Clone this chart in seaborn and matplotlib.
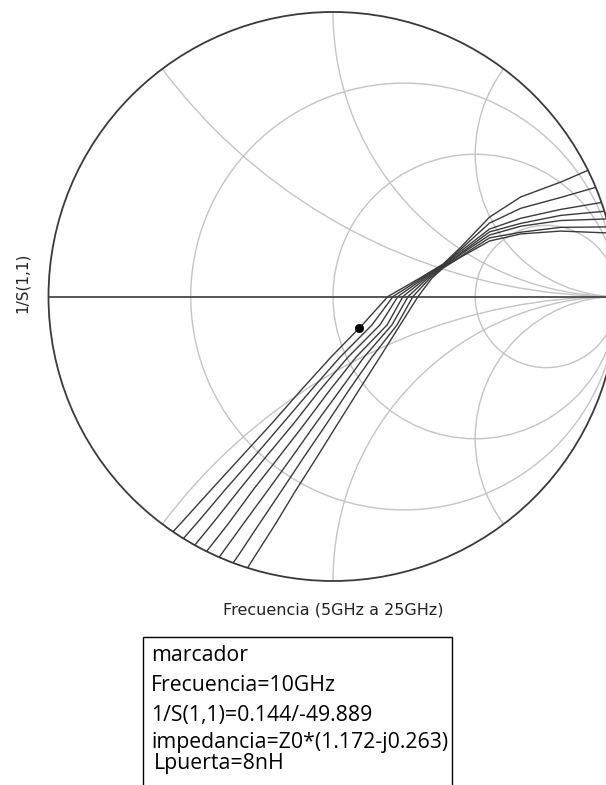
import numpy as np
import pandas as pd
import matplotlib
matplotlib.use("Agg")
import matplotlib.pyplot as plt
import seaborn as sns
from matplotlib.patches import Circle, Rectangle

# Smith chart grid values
r_circles = [1 / 3, 1, 3]
x_arcs = [0.5, 1, 2]

# 1/S(1,1) traces (one per Lpuerta value), reflection coefficient re / im
# im values: top part per curve, lower part read at common levels
levels_im = [0.065, 0.0, -0.100, -0.213, -0.329, -0.445, -0.564, -0.680, -0.796, -0.912, -0.996]

c1_re = [0.96, 0.80, 0.66, 0.55, 0.45, 0.387, 0.306, 0.193, 0.103, -0.007, -0.112, -0.214, -0.323, -0.429, -0.534, -0.640, -0.724]
c1_im_top = [0.471, 0.402, 0.350, 0.279, 0.174, 0.114]
c2_re = [0.98, 0.80, 0.66, 0.55, 0.45, 0.387, 0.313, 0.211, 0.137, 0.025, -0.077, -0.176, -0.278, -0.380, -0.478, -0.580, -0.657]
c2_im_top = [0.400, 0.348, 0.310, 0.258, 0.167, 0.112]
c3_re = [1.00, 0.80, 0.66, 0.55, 0.45, 0.387, 0.320, 0.228, 0.165, 0.053, -0.046, -0.137, -0.236, -0.330, -0.422, -0.517, -0.591]
c3_im_top = [0.340, 0.306, 0.275, 0.237, 0.160, 0.110]
c4_re = [1.00, 0.80, 0.66, 0.55, 0.45, 0.387, 0.327, 0.246, 0.190, 0.081, -0.011, -0.098, -0.190, -0.281, -0.366, -0.457, -0.524]
c4_im_top = [0.304, 0.285, 0.257, 0.227, 0.153, 0.107]
c5_re = [1.00, 0.80, 0.66, 0.55, 0.45, 0.387, 0.334, 0.264, 0.207, 0.109, 0.025, -0.060, -0.144, -0.228, -0.313, -0.397, -0.460]
c5_im_top = [0.274, 0.267, 0.247, 0.216, 0.149, 0.105]
c6_re = [1.00, 0.80, 0.66, 0.55, 0.45, 0.387, 0.341, 0.281, 0.225, 0.137, 0.056, -0.021, -0.102, -0.179, -0.257, -0.334, -0.394]
c6_im_top = [0.245, 0.243, 0.226, 0.206, 0.142, 0.102]
c7_re = [1.00, 0.80, 0.66, 0.55, 0.45, 0.387, 0.348, 0.299, 0.236, 0.165, 0.091, 0.018, -0.056, -0.130, -0.200, -0.274, -0.327]
c7_im_top = [0.222, 0.230, 0.220, 0.195, 0.139, 0.100]

# marker at 10 GHz
marker_mag = [0.144]
marker_ang = [-49.889]

box_lines = ["marcador", "Frecuencia=10GHz", "1/S(1,1)=0.144/-49.889",
             "impedancia=Z0*(1.172-j0.263)", "Lpuerta=8nH"]

# figure geometry (pixels)
W, H = 606, 785
CX, CY, R = 333, 296.5, 284.5
GRID = "#c4c4c4"
DARK = "#3a3a3a"

sns.set_theme(style="white")
plt.rcParams["font.family"] = ["DejaVu Sans"]

curves = [(c1_re, c1_im_top), (c2_re, c2_im_top), (c3_re, c3_im_top), (c4_re, c4_im_top),
          (c5_re, c5_im_top), (c6_re, c6_im_top), (c7_re, c7_im_top)]
rows = []
for k, (re, im_top) in enumerate(curves):
    im = im_top + levels_im
    for a, b in zip(re, im):
        rows.append({"curve": k, "re": a, "im": b})
df = pd.DataFrame(rows)

fig = plt.figure(figsize=(W / 100, H / 100), dpi=100)
ax = fig.add_axes([0, 0, 1, 1])
ax.set_xlim(-CX / R, (W - CX) / R)
ax.set_ylim((CY - H) / R, CY / R)
ax.axis("off")

unit = Circle((0, 0), 1, fill=False, lw=0, visible=False)
ax.add_patch(unit)

# resistance circles and reactance arcs
for r in r_circles:
    c = Circle((r / (1 + r), 0), 1 / (1 + r), fill=False, ec=GRID, lw=1.0)
    ax.add_patch(c)
    c.set_clip_path(unit)
for x in x_arcs:
    for s in (1, -1):
        c = Circle((1, s / x), 1 / x, fill=False, ec=GRID, lw=1.0)
        ax.add_patch(c)
        c.set_clip_path(unit)

n_before = len(ax.lines)
ax.axhline(0, color=DARK, lw=1.2)
sns.lineplot(data=df, x="re", y="im", units="curve", estimator=None, sort=False,
             color=DARK, linewidth=1.0, ax=ax, legend=False)
for ln in ax.lines[n_before:]:
    ln.set_clip_path(unit)

ax.add_patch(Circle((0, 0), 1, fill=False, ec=DARK, lw=1.3))

mk_re = [m * np.cos(np.radians(a)) for m, a in zip(marker_mag, marker_ang)]
mk_im = [m * np.sin(np.radians(a)) for m, a in zip(marker_mag, marker_ang)]
sns.scatterplot(x=mk_re, y=mk_im, color="black", s=36, edgecolor="black", ax=ax, zorder=5)

# axis labels
fig.text(22 / W, 1 - 283 / H, "1/S(1,1)", rotation=90, ha="center", va="center",
         fontsize=11, color="#222222")
fig.text(333 / W, 1 - 610 / H, "Frecuencia (5GHz a 25GHz)", ha="center", va="center",
         fontsize=11.5, color="#222222")

# marker info box
fig.patches.append(Rectangle((143 / W, 1 - 792 / H), (452 - 143) / W, (792 - 637) / H,
                             transform=fig.transFigure, fill=False, ec="black", lw=1.0))
baselines = [661, 691, 721, 748, 769]
for i, (txt, yb) in enumerate(zip(box_lines, baselines)):
    x0 = 154 if i == 4 else 151
    fig.text(x0 / W, 1 - yb / H, txt, ha="left", va="baseline", fontsize=15.3,
             family=["Open Sans", "DejaVu Sans"], color="black")

fig.savefig("out.png", dpi=100)
